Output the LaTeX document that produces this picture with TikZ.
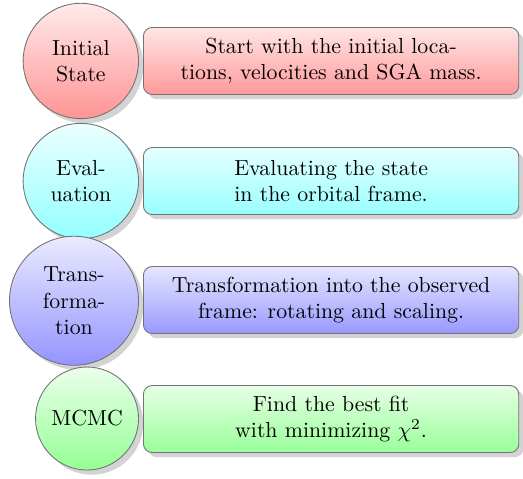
\documentclass[tikz,border=0pt]{standalone}
\usepackage{amsmath}
\usepackage{amssymb}
\usepackage{tikz}
\usetikzlibrary{shadows,calc}

\begin{document}
\begin{tikzpicture}
  \tikzstyle{stage}=[circle,draw=black!55,drop shadow={opacity=0.35},align=center,inner sep=0pt,anchor=east]
  \tikzstyle{desc}=[rectangle,rounded corners=4pt,draw=black!55,drop shadow={opacity=0.35},align=center,anchor=west,minimum width=6.05cm,minimum height=1.08cm]
  \useasboundingbox (0,0) rectangle (8.43,-7.71);
  \coordinate (c) at (2.24,-0.983);

  \draw (c)++(0,0) node[stage,minimum size=1.86cm,top color=red!8,bottom color=red!42] (init){Initial\\State};
  \draw (c)++(0.065,0) node[desc,top color=red!10,bottom color=red!40] (initd){Start with the initial loca-\\tions, velocities and SGA mass.};

  \draw (c)++(0,-1.935) node[stage,minimum size=1.86cm,top color=cyan!8,bottom color=cyan!42] (eval){Eval-\\uation};
  \draw (c)++(0.065,-1.935) node[desc,top color=cyan!10,bottom color=cyan!40] (evald){Evaluating the state\\in the orbital frame.};

  \draw (c)++(0,-3.865) node[stage,minimum size=2.08cm,top color=blue!8,bottom color=blue!42] (trans){Trans-\\forma-\\tion};
  \draw (c)++(0.065,-3.853) node[desc,top color=blue!10,bottom color=blue!40] (transd){Transformation into the observed\\frame: rotating and scaling.};

  \draw (c)++(0,-5.763) node[stage,minimum size=1.66cm,top color=green!8,bottom color=green!42] (mcmc){MCMC};
  \draw (c)++(0.065,-5.771) node[desc,top color=green!10,bottom color=green!40] (mcmcd){Find the best fit\\with minimizing $\chi^2$.};
\end{tikzpicture}
\end{document}
